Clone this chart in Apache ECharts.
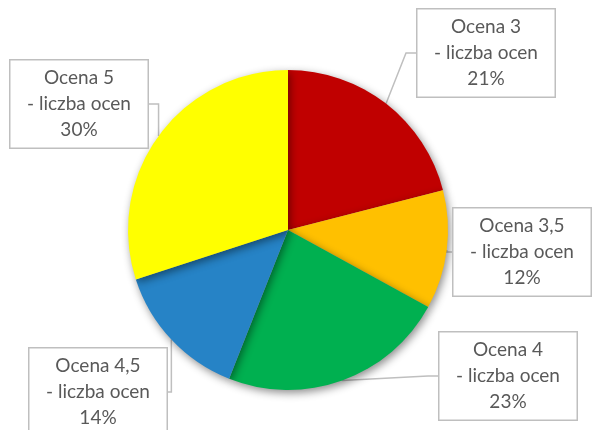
<!DOCTYPE html>
<html><head><meta charset="utf-8">
<script src="https://cdn.jsdelivr.net/npm/echarts@6/dist/echarts.min.js"></script>
<style>html,body{margin:0;padding:0;background:#fff}#c{width:592px;height:430px}</style>
</head><body><div id="c"></div>
<script>
const categories = ['Ocena 3', 'Ocena 3,5', 'Ocena 4', 'Ocena 4,5', 'Ocena 5'];
const values = [21, 12, 23, 14, 30];
const colors = ['#C00000', '#FFC000', '#00B050', '#2683C6', '#FFFF00'];
const labelSuffix = '- liczba ocen';
// label box centres (layout only)
const labelPos = [[486, 53], [522, 252], [508, 376], [98, 392], [79, 104]];

const chart = echarts.init(document.getElementById('c'));
chart.setOption({
  animation: false,
  series: [{
    type: 'pie',
    center: [288, 230],
    radius: [0, 160],
    startAngle: 90,
    clockwise: true,
    data: categories.map((c, i) => ({ name: c, value: values[i], itemStyle: { color: colors[i] } })),
    itemStyle: { shadowBlur: 8, shadowColor: 'rgba(0,0,0,0.45)', shadowOffsetX: 2, shadowOffsetY: 3 },
    label: {
      show: true,
      position: 'outside',
      formatter: p => p.name + '\n' + labelSuffix + '\n' + p.value + '%',
      fontFamily: 'Lato',
      fontSize: 19,
      lineHeight: 26,
      color: '#595959',
      align: 'center',
      width: 125,
      backgroundColor: '#fff',
      borderColor: '#BFBFBF',
      borderWidth: 1.5,
      padding: [5, 6, 4, 6]
    },
    labelLine: { show: true, length: 10, length2: 10, lineStyle: { color: '#BFBFBF', width: 1.5 } },
    labelLayout: function (params) {
      const p = labelPos[params.dataIndex];
      return { x: p[0], y: p[1], align: 'center', verticalAlign: 'middle', moveOverlap: false };
    },
    emphasis: { disabled: true }
  }]
});
</script></body></html>
